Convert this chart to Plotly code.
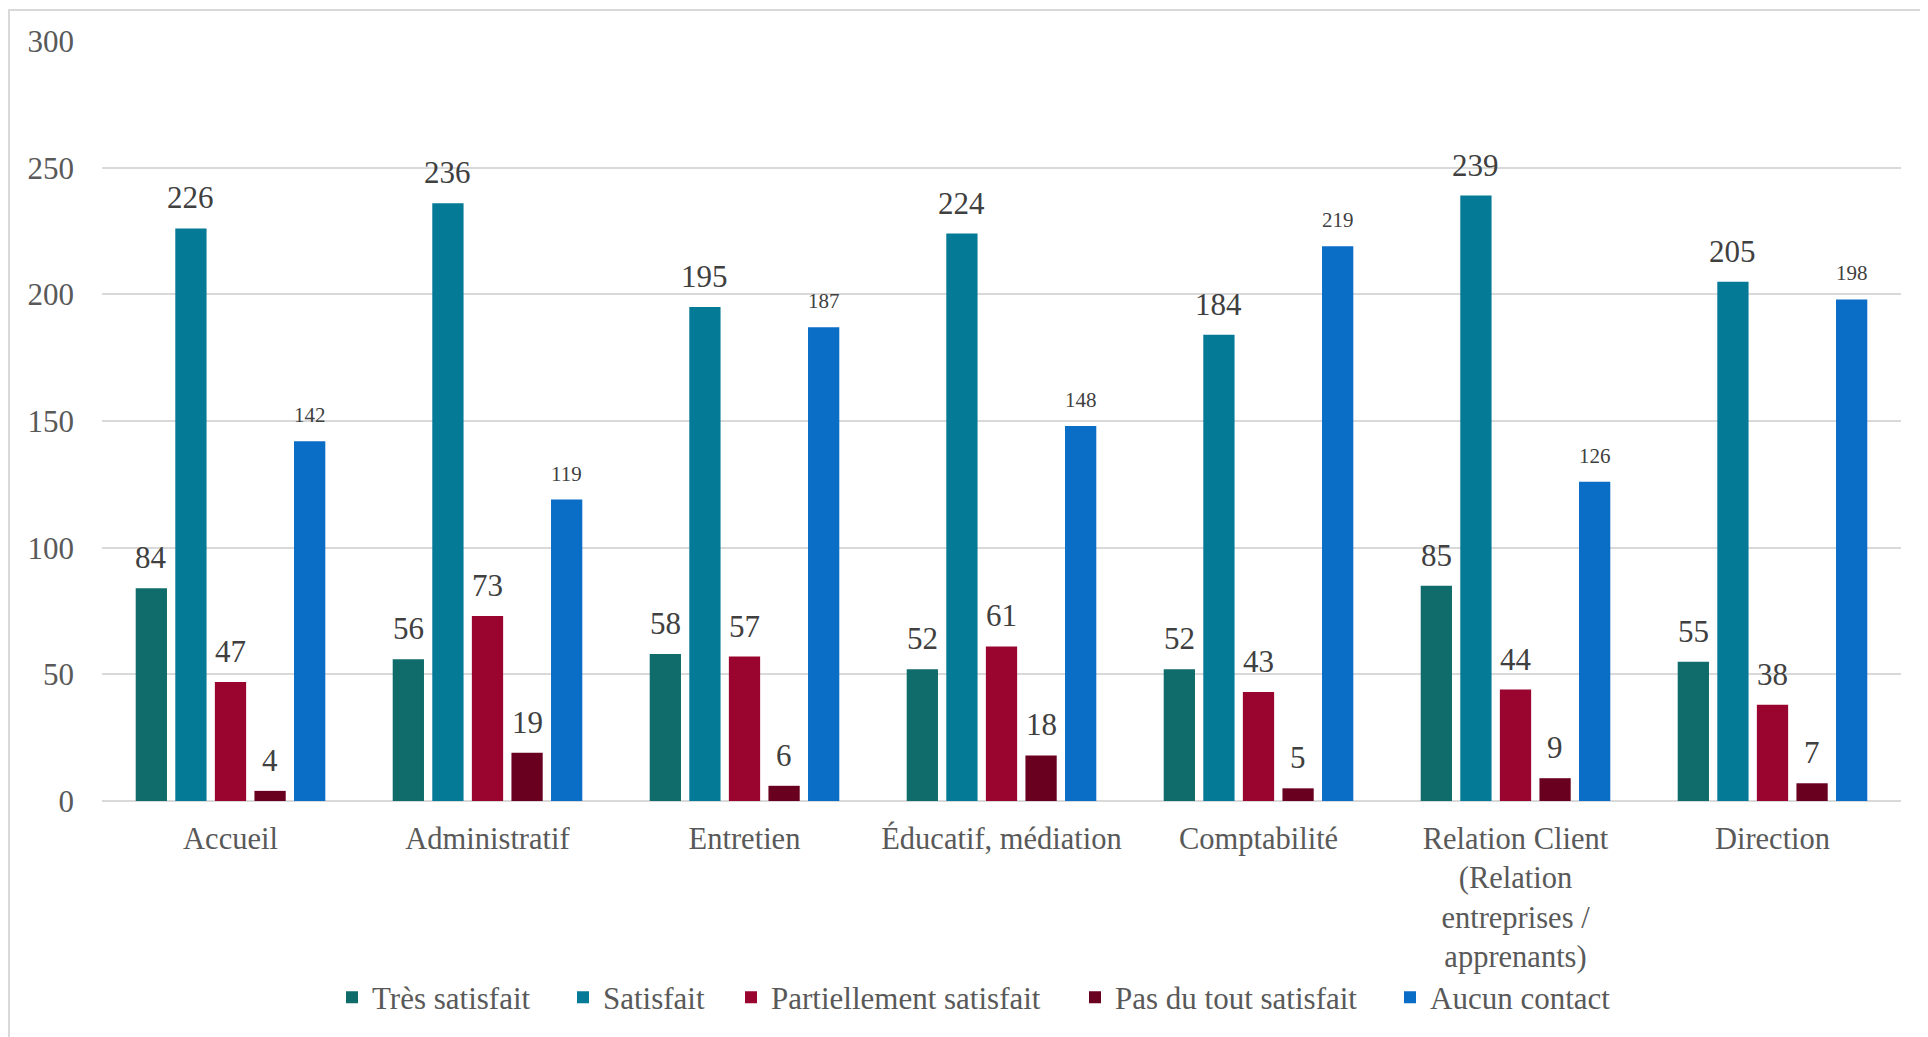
import plotly.graph_objects as go

categories = ["Accueil", "Administratif", "Entretien", "Éducatif, médiation",
              "Comptabilité", "Relation Client<br>(Relation<br>entreprises /<br>apprenants)", "Direction"]
series_names = ["Très satisfait", "Satisfait", "Partiellement satisfait", "Pas du tout satisfait", "Aucun contact"]
tres_satisfait = [84, 56, 58, 52, 52, 85, 55]
satisfait = [226, 236, 195, 224, 184, 239, 205]
partiellement = [47, 73, 57, 61, 43, 44, 38]
pas_du_tout = [4, 19, 6, 18, 5, 9, 7]
aucun_contact = [142, 119, 187, 148, 219, 126, 198]
y_ticks = [0, 50, 100, 150, 200, 250, 300]

colors = ["#106B6B", "#057A96", "#9A0530", "#6A0020", "#0A6DC6"]
label_sizes = [31, 31, 31, 31, 21]
series = [tres_satisfait, satisfait, partiellement, pas_du_tout, aucun_contact]

FONT = "Liberation Serif"

# figure geometry (page has an 8px body margin)
W, H = 1920, 1029
L, R, T, B = 94, 27, 33, 234
pw = W - L - R
ph = H - T - B
BARGAP = 0.23
ncat = len(categories)
nser = len(series)
slot = pw / ncat * (1 - BARGAP) / nser

# legend marker centres in page pixels
legend_centres = [353, 584, 752, 1096, 1411]

fig = go.Figure()
annotations = []
layout_legends = {}
for i, (name, vals, col, ls) in enumerate(zip(series_names, series, colors, label_sizes)):
    lg = "legend" if i == 0 else f"legend{i + 1}"
    fig.add_trace(go.Bar(
        x=categories, y=vals, name=name, legend=lg,
        marker=dict(color=col, line=dict(width=0)),
        hoverinfo="x+y+name",
    ))
    for c, v in zip(categories, vals):
        annotations.append(dict(
            x=c, y=v, xref="x", yref="y", text=str(v), showarrow=False,
            xanchor="center", yanchor="bottom", xshift=(i - (nser - 1) / 2) * slot,
            yshift=11 if ls > 25 else 12,
            font=dict(family=FONT, size=ls, color="#404040"),
        ))
    layout_legends[lg] = dict(
        orientation="h", x=(legend_centres[i] - 8 - 21 - L) / pw, xanchor="left",
        y=(H - (1000 - 8) - B) / ph, yanchor="middle",
        font=dict(family=FONT, size=31, color="#595959"),
        itemwidth=30, bgcolor="rgba(0,0,0,0)",
    )

fig.update_layout(
    width=W, height=H,
    margin=dict(l=L, r=R, t=T, b=B, pad=0),
    paper_bgcolor="white", plot_bgcolor="white",
    barmode="group", bargap=BARGAP, bargroupgap=0.21,
    font=dict(family=FONT, size=30, color="#595959"),
    showlegend=True,
    xaxis=dict(showgrid=False, showline=False, ticks="", ticklabelstandoff=16,
               tickfont=dict(family=FONT, size=30.5, color="#595959")),
    yaxis=dict(range=[0, 300], tickvals=y_ticks, showgrid=True, gridcolor="#D9D9D9",
               gridwidth=1.5, zeroline=True, zerolinecolor="#D9D9D9", zerolinewidth=1.5,
               showline=False, ticks="", ticklabelstandoff=27,
               tickfont=dict(family=FONT, size=31, color="#595959")),
    annotations=annotations,
    shapes=[dict(type="rect", xref="paper", yref="paper",
                 x0=(1 - L) / pw, x1=(W + 10 - L) / pw,
                 y0=-(H + 10 - T - ph) / ph, y1=1 + (T - 2) / ph,
                 line=dict(color="#D9D9D9", width=2), fillcolor="rgba(0,0,0,0)", layer="below")],
    **layout_legends,
)

fig.write_html("out.html")
